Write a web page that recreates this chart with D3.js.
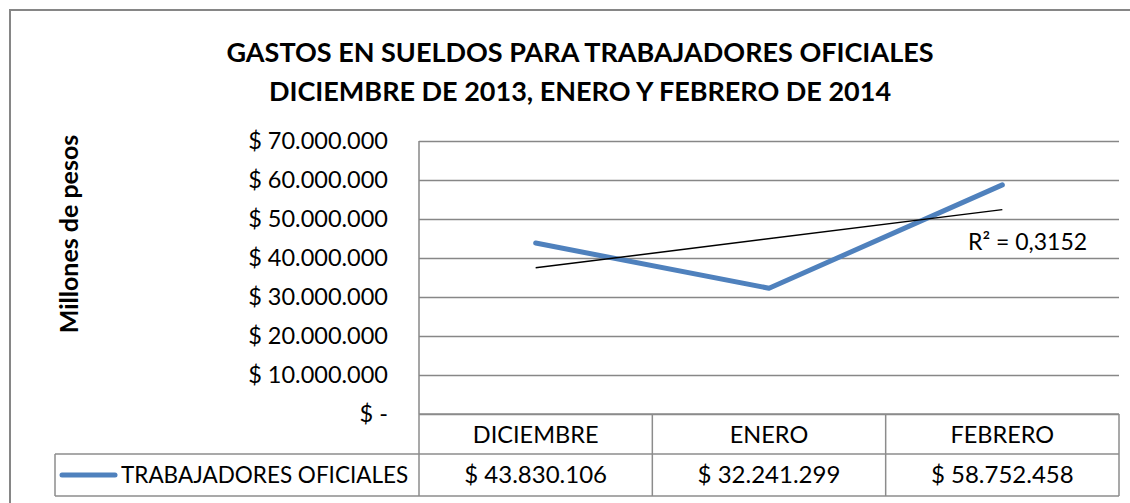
<!DOCTYPE html>
<html>
<head>
<meta charset="utf-8">
<script src="https://cdn.jsdelivr.net/npm/d3@7"></script>
<style>
  body { margin: 0; background: #fff; }
  svg { display: block; }
</style>
</head>
<body>
<svg id="mainFrame"></svg>
<script>
// data
const titleLines = ["GASTOS EN SUELDOS PARA TRABAJADORES OFICIALES", "DICIEMBRE DE 2013, ENERO Y FEBRERO DE 2014"];
const yLabel = "Millones de pesos";
const seriesName = "TRABAJADORES OFICIALES";
const categories = ["DICIEMBRE", "ENERO", "FEBRERO"];
const values = [43830106, 32241299, 58752458];
const yTicks = [0, 10000000, 20000000, 30000000, 40000000, 50000000, 60000000, 70000000];

const width = 1130, height = 503;
const plot = { left: 419, right: 1119, top: 141, bottom: 414 };
const rowH = [40, 42];
const font = "Lato, 'Open Sans', sans-serif";

const loc = d3.formatLocale({ decimal: ",", thousands: ".", grouping: [3], currency: ["$ ", ""] });
const money = v => v === 0 ? "$ -" : loc.format("$,.0f")(v);

const x = d3.scaleBand()
    .domain(categories)
    .range([plot.left, plot.right]);

const y = d3.scaleLinear()
    .domain([0, d3.max(yTicks)])
    .range([plot.bottom, plot.top]);

const cx = d => x(d) + x.bandwidth() / 2;

const svg = d3.select("#mainFrame")
    .attr("width", width)
    .attr("height", height)
    .attr("font-family", font);

// chart border
svg.append("rect")
    .attr("x", 10).attr("y", 10)
    .attr("width", 1200).attr("height", 600)
    .attr("fill", "none")
    .attr("stroke", "#868686")
    .attr("stroke-width", 2);

// title
svg.append("g")
    .selectAll("text")
    .data(titleLines)
    .join("text")
    .attr("x", 580)
    .attr("y", (d, i) => 62 + i * 39)
    .attr("text-anchor", "middle")
    .attr("font-size", 27)
    .attr("font-weight", "bold")
    .text(d => d);

// y axis title
svg.append("text")
    .attr("transform", "translate(78,234) rotate(-90)")
    .attr("text-anchor", "middle")
    .attr("font-size", 25)
    .attr("font-weight", "bold")
    .text(yLabel);

// gridlines + tick labels
const yAxis = d3.axisLeft(y)
    .tickValues(yTicks)
    .tickSize(-(plot.right - plot.left))
    .tickPadding(31)
    .tickFormat(money);

svg.append("g")
    .attr("transform", `translate(${plot.left},0)`)
    .call(yAxis)
    .call(g => g.select(".domain").remove())
    .call(g => g.selectAll(".tick line").attr("stroke", "#878787").attr("stroke-width", 1.5))
    .call(g => g.selectAll(".tick text")
        .attr("font-family", font)
        .attr("font-size", 23.5)
        .attr("fill", "#000"));

// left plot edge
svg.append("line")
    .attr("x1", plot.left).attr("x2", plot.left)
    .attr("y1", plot.top).attr("y2", plot.bottom)
    .attr("stroke", "#878787").attr("stroke-width", 1.5);

// trendline (linear least squares on 1..n)
const xs = values.map((d, i) => i + 1);
const mx = d3.mean(xs), my = d3.mean(values);
const slope = d3.sum(xs, (v, i) => (v - mx) * (values[i] - my)) / d3.sum(xs, v => (v - mx) ** 2);
const icpt = my - slope * mx;
const fit = xs.map(v => icpt + slope * v);
const r2 = 1 - d3.sum(values, (v, i) => (v - fit[i]) ** 2) / d3.sum(values, v => (v - my) ** 2);

const line = d3.line()
    .x((d, i) => cx(categories[i]))
    .y(d => y(d));

svg.append("path")
    .datum(values)
    .attr("d", line)
    .attr("fill", "none")
    .attr("stroke", "#4F81BD")
    .attr("stroke-width", 5)
    .attr("stroke-linecap", "round")
    .attr("stroke-linejoin", "round");

svg.append("path")
    .datum([fit[0], fit[fit.length - 1]])
    .attr("d", d3.line()
        .x((d, i) => cx(categories[i === 0 ? 0 : categories.length - 1]))
        .y(d => y(d)))
    .attr("fill", "none")
    .attr("stroke", "#000")
    .attr("stroke-width", 1.5);

svg.append("text")
    .attr("x", 968)
    .attr("y", 250)
    .attr("font-size", 23)
    .text("R² = " + loc.format(".4f")(r2));

// data table
const tbl = svg.append("g")
    .attr("fill", "none")
    .attr("stroke", "#8c8c8c")
    .attr("stroke-width", 1.5);
const r1 = plot.bottom + rowH[0], r2y = r1 + rowH[1];
const legendLeft = 55;

tbl.append("line").attr("x1", plot.left).attr("x2", plot.right).attr("y1", plot.bottom).attr("y2", plot.bottom);
tbl.append("line").attr("x1", legendLeft).attr("x2", plot.right).attr("y1", r1).attr("y2", r1);
tbl.append("line").attr("x1", legendLeft).attr("x2", plot.right).attr("y1", r2y).attr("y2", r2y);
tbl.append("line").attr("x1", legendLeft).attr("x2", legendLeft).attr("y1", r1).attr("y2", r2y);
tbl.selectAll(".col")
    .data(categories)
    .join("line")
    .attr("x1", d => x(d)).attr("x2", d => x(d))
    .attr("y1", plot.bottom).attr("y2", r2y);
tbl.append("line").attr("x1", plot.right).attr("x2", plot.right).attr("y1", plot.bottom).attr("y2", r2y);

svg.append("g")
    .selectAll("text")
    .data(categories)
    .join("text")
    .attr("x", d => cx(d))
    .attr("y", plot.bottom + rowH[0] / 2 + 1)
    .attr("dy", "0.35em")
    .attr("text-anchor", "middle")
    .attr("font-size", 23.5)
    .text(d => d);

svg.append("g")
    .selectAll("text")
    .data(values)
    .join("text")
    .attr("x", (d, i) => cx(categories[i]))
    .attr("y", r1 + rowH[1] / 2)
    .attr("dy", "0.35em")
    .attr("text-anchor", "middle")
    .attr("font-size", 24)
    .text(d => money(d));

// legend key
svg.append("line")
    .attr("x1", 62).attr("x2", 115)
    .attr("y1", r1 + rowH[1] / 2).attr("y2", r1 + rowH[1] / 2)
    .attr("stroke", "#4F81BD")
    .attr("stroke-width", 5)
    .attr("stroke-linecap", "round");

svg.append("text")
    .attr("x", 121)
    .attr("y", r1 + rowH[1] / 2)
    .attr("dy", "0.35em")
    .attr("font-size", 22.5)
    .text(seriesName);
</script>
</body>
</html>
